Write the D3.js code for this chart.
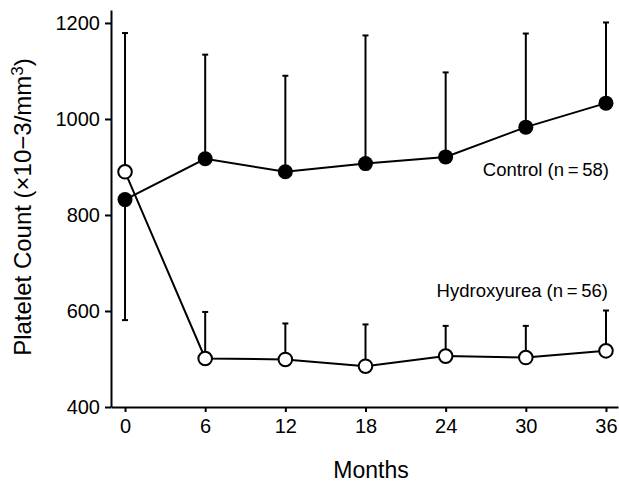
<!DOCTYPE html>
<html><head><meta charset="utf-8">
<script src="https://cdn.jsdelivr.net/npm/d3@7"></script>
<style>body{margin:0;background:#fff}svg{display:block}</style>
</head><body>
<svg id="c" width="619" height="482"></svg>
<script>
const months = [0, 6, 12, 18, 24, 30, 36];
const controlMean = [832, 917, 890, 907, 921, 983, 1033];
const controlErrLow = [581, null, null, null, null, null, null];
const controlErrHigh = [null, 1134, 1090, 1174, 1097, 1178, 1201];
const hydroxMean = [890, 501, 499, 485, 506, 503, 517];
const hydroxErrHigh = [1179, 598, 574, 572, 569, 569, 601];
const yTicks = [400, 600, 800, 1000, 1200];
const xTicks = [0, 6, 12, 18, 24, 30, 36];
const labels = {control: "Control (n\u2009=\u200958)", hydrox: "Hydroxyurea (n\u2009=\u200956)"};

const svg = d3.select("#c");
const font = "'Liberation Sans', Arial, sans-serif";
const x = d3.scaleLinear().domain([-1.05, 36.9]).range([111, 618]);
const y = d3.scaleLinear().domain([400, 1227]).range([407, 10]);

// axes
const ya = svg.append("g").attr("transform", "translate(111,0)")
  .call(d3.axisLeft(y).tickValues(yTicks).tickFormat(d3.format("d")).tickSize(6).tickPadding(5).tickSizeOuter(0));
const xa = svg.append("g").attr("transform", "translate(0,407)")
  .call(d3.axisBottom(x).tickValues(xTicks).tickFormat(d3.format("d")).tickSize(5).tickPadding(7).tickSizeOuter(0));
[ya, xa].forEach(a => {
  a.select(".domain").attr("stroke", "#000").attr("stroke-width", 2);
  a.selectAll(".tick line").attr("stroke", "#000").attr("stroke-width", 2);
  a.selectAll(".tick text").attr("font-family", font).attr("font-size", 20).attr("fill", "#000");
});
xa.selectAll(".tick text").attr("dy", "0.71em");

const cData = months.map((m, i) => ({m, v: controlMean[i], lo: controlErrLow[i], hi: controlErrHigh[i]}));
const hData = months.map((m, i) => ({m, v: hydroxMean[i], hi: hydroxErrHigh[i]}));

const line = d3.line().x(d => x(d.m)).y(d => y(d.v));
const g = svg.append("g");

// error bars
function errBars(data) {
  data.forEach(d => {
    [d.lo, d.hi].forEach(e => {
      if (e == null) return;
      g.append("line").attr("x1", x(d.m)).attr("x2", x(d.m)).attr("y1", y(d.v)).attr("y2", y(e))
        .attr("stroke", "#000").attr("stroke-width", 2);
      g.append("line").attr("x1", x(d.m) - 3).attr("x2", x(d.m) + 3).attr("y1", y(e)).attr("y2", y(e))
        .attr("stroke", "#000").attr("stroke-width", 2);
    });
  });
}
errBars(cData);
errBars(hData);

g.append("path").datum(cData).attr("d", line).attr("fill", "none").attr("stroke", "#000").attr("stroke-width", 2);
g.append("path").datum(hData).attr("d", line).attr("fill", "none").attr("stroke", "#000").attr("stroke-width", 2);

g.selectAll(".cdot").data(cData).join("circle")
  .attr("cx", d => x(d.m)).attr("cy", d => y(d.v)).attr("r", 7.5).attr("fill", "#000");
g.selectAll(".hdot").data(hData).join("circle")
  .attr("cx", d => x(d.m)).attr("cy", d => y(d.v)).attr("r", 6.8)
  .attr("fill", "#fff").attr("stroke", "#000").attr("stroke-width", 2);

// annotations
svg.append("text").attr("x", 609).attr("y", 176).attr("text-anchor", "end")
  .attr("font-family", font).attr("font-size", 18.5).text(labels.control);
svg.append("text").attr("x", 608).attr("y", 297).attr("text-anchor", "end")
  .attr("font-family", font).attr("font-size", 18.5).text(labels.hydrox);

// axis titles
svg.append("text").attr("x", 371).attr("y", 478).attr("text-anchor", "middle")
  .attr("font-family", font).attr("font-size", 23).text("Months");
const yl = svg.append("text").attr("transform", "translate(31,207) rotate(-90)")
  .attr("text-anchor", "middle").attr("font-family", font).attr("font-size", 24);
yl.append("tspan").text("Platelet Count (\u00D710\u22123/mm");
yl.append("tspan").attr("font-size", 17).attr("dy", -8).text("3");
yl.append("tspan").attr("dy", 8).text(")");
</script>
</body></html>
